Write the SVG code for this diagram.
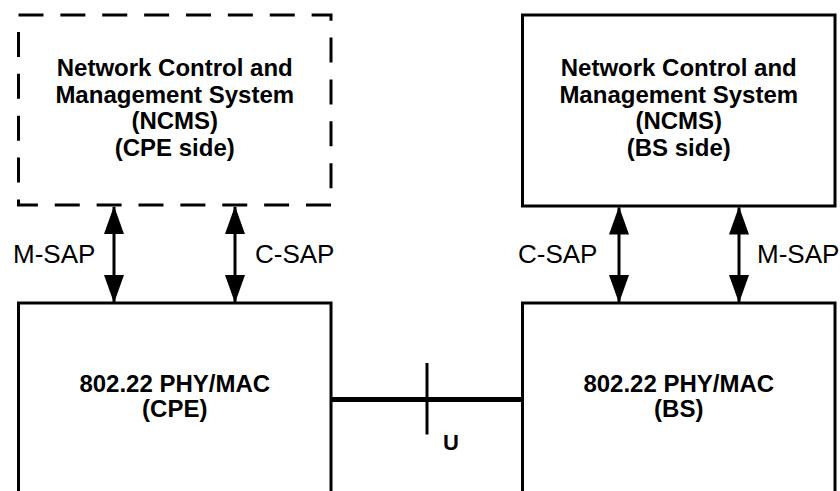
<svg xmlns="http://www.w3.org/2000/svg" width="840" height="491" viewBox="0 0 840 491">
  <defs>
    <style>
      .box { fill: #fff; stroke: #000; stroke-width: 3; }
      .dashed { stroke-dasharray: 25 16.875; }
      .title { font-family: "Liberation Sans", Arial, sans-serif; font-weight: bold; font-size: 24px; text-anchor: middle; fill: #000; }
      .sap { font-family: "Liberation Sans", Arial, sans-serif; font-size: 26px; fill: #000; }
      .link { stroke: #000; fill: none; }
      .sap-line { stroke-width: 3; marker-start: url(#head); marker-end: url(#head); }
    </style>
    <marker id="head" viewBox="0 0 28 20" markerWidth="28" markerHeight="20" markerUnits="userSpaceOnUse" refX="27" refY="10" orient="auto-start-reverse">
      <path d="M0,0 L28,10 L0,20 Z" fill="#000"/>
    </marker>
  </defs>

  <rect width="840" height="491" fill="#fff"/>

  <!-- NCMS, CPE side (dashed) -->
  <g id="ncms-cpe">
    <rect class="box dashed" x="18.5" y="15" width="312.5" height="190"/>
    <text class="title" x="174.75" y="76">Network Control and</text>
    <text class="title" x="174.75" y="102.5">Management System</text>
    <text class="title" x="174.75" y="129">(NCMS)</text>
    <text class="title" x="174.75" y="155.5">(CPE side)</text>
  </g>

  <!-- NCMS, BS side -->
  <g id="ncms-bs">
    <rect class="box" x="522.5" y="15" width="312.5" height="191"/>
    <text class="title" x="678.75" y="76">Network Control and</text>
    <text class="title" x="678.75" y="102.5">Management System</text>
    <text class="title" x="678.75" y="129">(NCMS)</text>
    <text class="title" x="678.75" y="155.5">(BS side)</text>
  </g>

  <!-- PHY/MAC, CPE -->
  <g id="phymac-cpe">
    <rect class="box" x="18.5" y="303" width="312.5" height="200"/>
    <text class="title" x="174.75" y="391.5">802.22 PHY/MAC</text>
    <text class="title" x="174.75" y="417">(CPE)</text>
  </g>

  <!-- PHY/MAC, BS -->
  <g id="phymac-bs">
    <rect class="box" x="522.5" y="303" width="312.5" height="200"/>
    <text class="title" x="678.75" y="391.5">802.22 PHY/MAC</text>
    <text class="title" x="678.75" y="417">(BS)</text>
  </g>

  <!-- Service access points and air interface -->
  <g id="connectors">
    <line class="link sap-line" x1="114" y1="207" x2="114" y2="302"/>
    <line class="link sap-line" x1="235" y1="207" x2="235" y2="302"/>
    <line class="link sap-line" x1="619" y1="207.5" x2="619" y2="302"/>
    <line class="link sap-line" x1="739" y1="207.5" x2="739" y2="302"/>
    <text class="sap" x="13" y="263">M-SAP</text>
    <text class="sap" x="255" y="263">C-SAP</text>
    <text class="sap" x="518" y="263">C-SAP</text>
    <text class="sap" x="757" y="263">M-SAP</text>

    <line class="link" x1="331" y1="399.5" x2="522.5" y2="399.5" stroke-width="5"/>
    <line class="link" x1="427" y1="363" x2="427" y2="434.5" stroke-width="3"/>
    <text class="title" x="451" y="450" style="font-size:22px">U</text>
  </g>
</svg>
